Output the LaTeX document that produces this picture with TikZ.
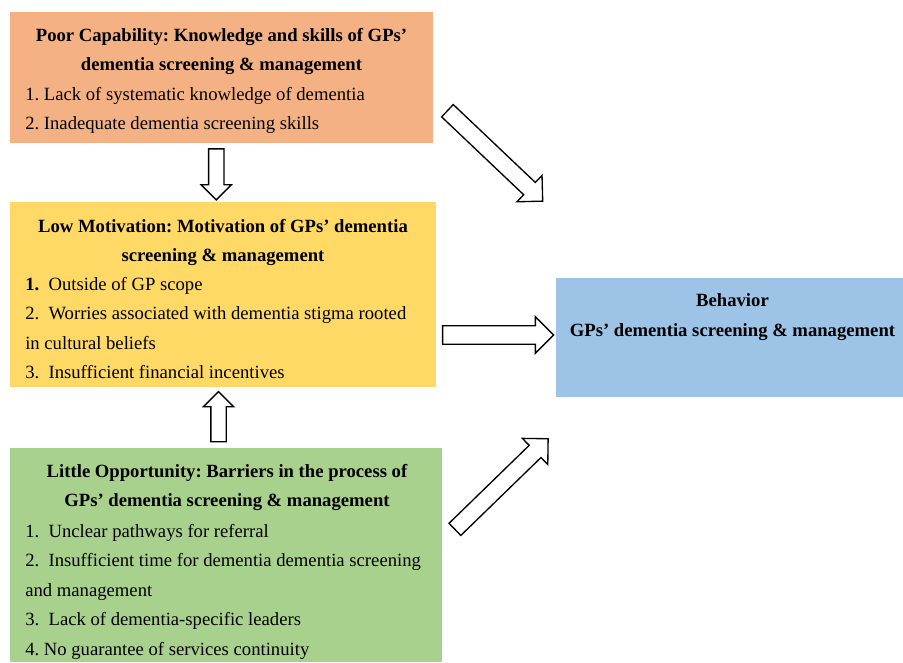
\documentclass[tikz,border=0pt]{standalone}
\usepackage{fontspec}
\setmainfont{Liberation Serif}
\usepackage{xcolor}
\usepackage{tikz}
\usetikzlibrary{
  calc,
  fit,
  positioning,
  shapes.arrows
}
\definecolor{CapFill}{RGB}{244,177,131}
\definecolor{MotFill}{RGB}{255,217,102}
\definecolor{OppFill}{RGB}{169,209,142}
\definecolor{BehFill}{RGB}{157,195,230}
\frenchspacing

\begin{document}
\begin{tikzpicture}[
  x=0.75pt, y=-0.75pt,
  font=\fontsize{14}{22.1}\selectfont,
  box/.style={inner sep=0pt, fill=#1},
  head/.style={inner sep=0pt, align=center, font=\fontsize{14}{22.1}\selectfont\bfseries},
  items/.style={inner sep=0pt, align=left, anchor=north west},
  blk/.style={single arrow, draw=black, fill=white, line width=1pt,
              inner xsep=0pt, single arrow head indent=0pt},
]
  \useasboundingbox (0,0) rectangle (903,662);

  % the four boxes
  \node[box=CapFill, fit={(10,12) (433,143)}] (cap) {};
  \node[box=MotFill, fit={(10,202) (436,387)}] (mot) {};
  \node[box=OppFill, fit={(10,448) (442,662)}] (opp) {};
  \node[box=BehFill, fit={(556,278) (903,397)}] (beh) {};

  % capability
  \node[head, anchor=north] (capT) at ($(cap.north)+(0,16)$)
    {Poor Capability: Knowledge and skills of GPs’\\dementia screening \& management};
  \node[items] (capL) at (25,87)
    {1. Lack of systematic knowledge of dementia\\
     2. Inadequate dementia screening skills};

  % motivation
  \node[head, anchor=north] (motT) at ($(mot.north)+(0,17)$)
    {Low Motivation: Motivation of GPs’ dementia\\screening \& management};
  \node[items] (motL) at (25,277)
    {\textbf{1.}\ \ Outside of GP scope\\
     2.\ \ Worries associated with dementia stigma rooted\\
     in cultural beliefs\\
     3.\ \ Insufficient financial incentives};

  % opportunity
  \node[head, anchor=north] (oppT) at ($(opp.north)+(1,16)$)
    {Little Opportunity: Barriers in the process of\\GPs’ dementia screening \& management};
  \node[items] (oppL) at (25,524)
    {1.\ \ Unclear pathways for referral\\
     2.\ \ Insufficient time for dementia dementia screening\\
     and management\\
     3.\ \ Lack of dementia-specific leaders\\
     4. No guarantee of services continuity};

  % behaviour
  \node[head, anchor=north] (behT) at ($(beh.north)+(3,16)$)
    {Behavior\\GPs’ dementia screening \& management};

  % block arrows
  \node[blk, rotate=-90, inner ysep=5.25pt, single arrow head extend=5.6pt,
        minimum height=38.25pt] (a1) at ($(cap.south)!0.5!(mot.north)+(-6,-2)$) {};
  \node[blk, rotate=90, inner ysep=5.25pt, single arrow head extend=5.6pt,
        minimum height=37.5pt] (a2) at ($(mot.south)!0.5!(opp.north)+(-6,3)$) {};
  \node[blk, inner ysep=6.4pt, single arrow head extend=6.75pt,
        minimum height=83.25pt] (a3) at (493.5,335) {};
  \node[blk, rotate=-43.5, inner ysep=5.85pt, single arrow head extend=7.3pt,
        minimum height=98.5pt] (a4) at (492,153) {};
  \node[blk, rotate=44.2, inner ysep=5.85pt, single arrow head extend=7.3pt,
        minimum height=97.5pt] (a5) at (498.5,487) {};
\end{tikzpicture}
\end{document}
